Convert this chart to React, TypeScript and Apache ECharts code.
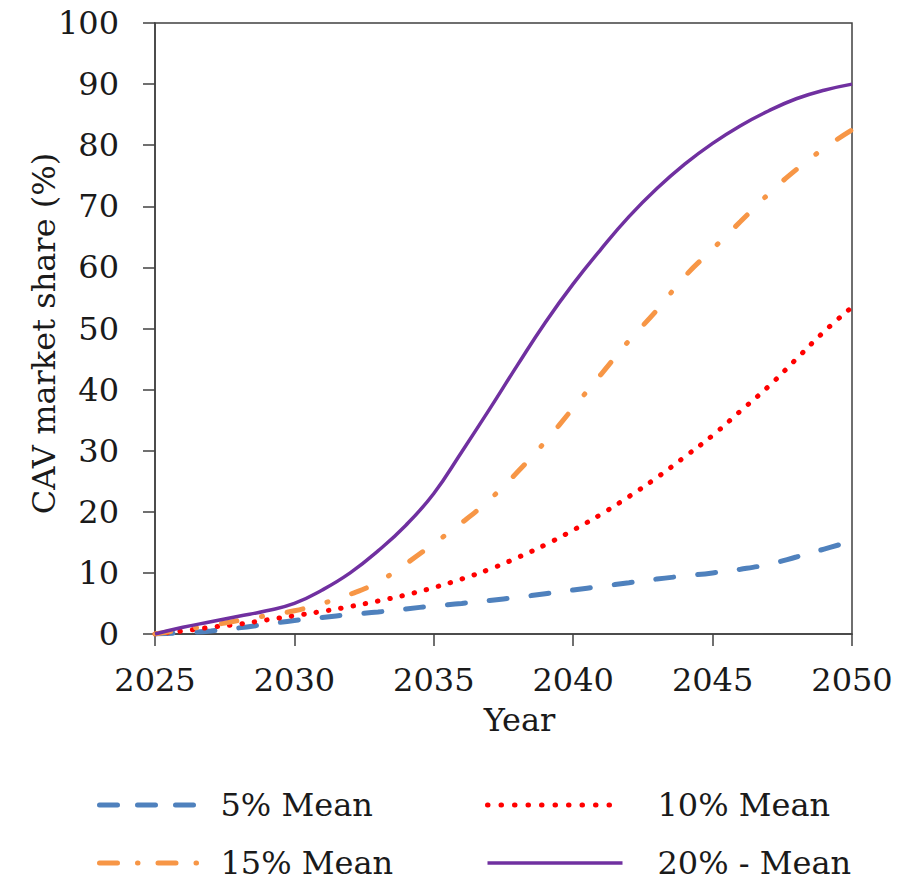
import React, { useEffect, useRef } from "react";
import * as echarts from "echarts";

const years = [2025, 2026, 2027, 2028, 2029, 2030, 2031, 2032, 2033, 2034, 2035, 2036, 2037, 2038, 2039, 2040, 2041, 2042, 2043, 2044, 2045, 2046, 2047, 2048, 2049, 2050];
const mean5 = [0, 0.2, 0.5, 1.0, 1.6, 2.2, 2.7, 3.2, 3.6, 4.1, 4.6, 5.0, 5.5, 6.0, 6.6, 7.2, 7.8, 8.4, 9.0, 9.5, 10.0, 10.6, 11.4, 12.6, 13.9, 15.2];
const mean10 = [0, 0.5, 1.1, 1.6, 2.3, 3.0, 3.7, 4.5, 5.4, 6.4, 7.6, 9.0, 10.6, 12.5, 14.6, 17.0, 19.6, 22.5, 25.6, 29.0, 32.5, 36.5, 40.5, 45.0, 49.5, 53.5];
const mean15 = [0, 0.7, 1.4, 2.2, 3.0, 3.8, 5.0, 6.5, 8.5, 11.5, 14.8, 18.2, 22.0, 26.5, 31.5, 37.0, 42.5, 48.0, 53.0, 58.5, 63.0, 67.5, 72.0, 76.0, 79.5, 82.5];
const mean20 = [0, 1.1, 2.0, 2.9, 3.8, 5.0, 7.2, 10.0, 13.6, 17.8, 23.0, 29.8, 36.8, 44.0, 51.0, 57.3, 63.0, 68.3, 72.9, 76.9, 80.3, 83.2, 85.6, 87.6, 89.0, 90.0];
const seriesNames = ["5% Mean", "10% Mean", "15% Mean", "20% - Mean"];
const xTicks = { min: 2025, max: 2050, interval: 5 };
const yTicks = { min: 0, max: 100, interval: 10 };

const FONT = "'DejaVu Serif', serif";

const styles = [
  { color: "#4f81bd", width: 5, type: [18, 24], cap: "round" },
  { color: "#ff0000", width: 5, type: [0.5, 12], cap: "round" },
  { color: "#f79646", width: 5, type: [16, 25, 1, 25], cap: "round" },
  { color: "#7030a0", width: 3.5, type: "solid", cap: "butt" },
];
const legendStyles = [
  { color: "#4f81bd", width: 5, type: [18, 20], cap: "round" },
  { color: "#ff0000", width: 5, type: [0.5, 13], cap: "round" },
  { color: "#f79646", width: 5, type: [18, 20, 0.5, 20], cap: "round" },
  { color: "#7030a0", width: 3.5, type: "solid", cap: "butt" },
];

export default function App() {
  const ref = useRef<HTMLDivElement>(null);
  useEffect(() => {
    if (!ref.current) return;
    const chart = echarts.init(ref.current, null, { renderer: "svg" });
    const pairs = (vals: number[]) => years.map((y, i) => [y, vals[i]]);
    const allVals = [mean5, mean10, mean15, mean20];
    const axisColor = "#404040";
    const textColor = "#1a1a1a";
    const legendItem = (i: number) => ({
      name: seriesNames[i],
      lineStyle: legendStyles[i],
      itemStyle: { color: "transparent", borderWidth: 0, opacity: 0 },
    });
    chart.setOption({
      animation: false,
      backgroundColor: "#ffffff",
      textStyle: { fontFamily: FONT },
      grid: {
        left: 155,
        right: 47,
        top: 23,
        bottom: 248,
        show: true,
        borderColor: axisColor,
        borderWidth: 1.5,
        backgroundColor: "transparent",
      },
      xAxis: {
        type: "value",
        min: xTicks.min,
        max: xTicks.max,
        interval: xTicks.interval,
        name: "Year",
        nameLocation: "middle",
        nameGap: 70,
        nameMoveOverlap: false,
        nameTextStyle: { fontFamily: FONT, fontSize: 32, color: textColor, padding: [0, 0, 0, 32] },
        axisLine: { show: true, lineStyle: { color: axisColor, width: 1.5 } },
        axisTick: { show: true, inside: false, length: 12, lineStyle: { color: axisColor, width: 1.5 } },
        axisLabel: {
          fontFamily: FONT,
          fontSize: 32,
          color: textColor,
          margin: 30,
          formatter: (v: number) => String(v),
        },
        splitLine: { show: false },
      },
      yAxis: {
        type: "value",
        min: yTicks.min,
        max: yTicks.max,
        interval: yTicks.interval,
        name: "CAV market share (%)",
        nameLocation: "middle",
        nameGap: 95,
        nameRotate: 90,
        nameMoveOverlap: false,
        nameTextStyle: { fontFamily: FONT, fontSize: 32, color: textColor, padding: [0, 10, 0, 0] },
        axisLine: { show: true, lineStyle: { color: axisColor, width: 1.5 } },
        axisTick: { show: true, inside: false, length: 12, lineStyle: { color: axisColor, width: 1.5 } },
        axisLabel: {
          fontFamily: FONT,
          fontSize: 32,
          color: textColor,
          margin: 36,
          formatter: (v: number) => String(v),
        },
        splitLine: { show: false },
      },
      legend: [
        {
          data: [legendItem(0), legendItem(2)],
          orient: "vertical",
          left: 97,
          top: 789,
          height: 140,
          padding: 0,
          itemWidth: 110,
          itemHeight: 14,
          itemGap: 26,
          textStyle: { fontFamily: FONT, fontSize: 32, color: textColor, padding: [0, 0, 0, 6] },
        },
        {
          data: [legendItem(1), legendItem(3)],
          orient: "vertical",
          left: 485,
          top: 789,
          height: 140,
          padding: 0,
          itemWidth: 135,
          itemHeight: 14,
          itemGap: 26,
          textStyle: { fontFamily: FONT, fontSize: 32, color: textColor, padding: [0, 0, 0, 30] },
        },
      ],
      series: seriesNames.map((name, i) => ({
        name,
        type: "line",
        data: pairs(allVals[i]),
        symbol: "none",
        smooth: 0.45,
        lineStyle: styles[i],
        itemStyle: { color: styles[i].color },
        z: 2 + i,
      })),
    });
    return () => chart.dispose();
  }, []);
  return (
    <div
      ref={ref}
      style={{ position: "fixed", left: 0, top: 0, width: 899, height: 882, background: "#fff" }}
    />
  );
}
